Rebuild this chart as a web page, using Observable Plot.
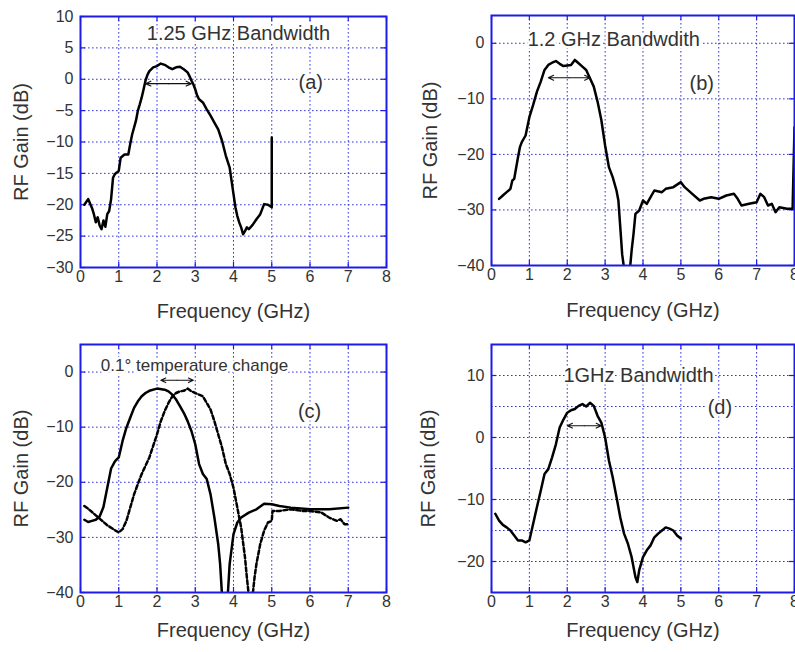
<!DOCTYPE html>
<html>
<head>
<meta charset="utf-8">
<script src="https://cdn.jsdelivr.net/npm/d3@7"></script>
<script src="https://cdn.jsdelivr.net/npm/@observablehq/plot@0.6"></script>
<style>
html, body { margin: 0; padding: 0; background: #fff; overflow: hidden; }
#fig { position: relative; width: 795px; height: 652px; overflow: hidden; background: #fff; }
.panel { position: absolute; }
</style>
</head>
<body>
<div id="fig"></div>
<script>
// ---------- data ----------
const xTicks = [0, 1, 2, 3, 4, 5, 6, 7, 8];
const xGrid = [1, 2, 3, 4, 5, 6, 7];

// (a) 1.25 GHz bandwidth
const aFreq = [0.1,0.2,0.3,0.35,0.4,0.45,0.5,0.55,0.6,0.65,0.7,0.75,0.8,0.85,0.9,1.0,1.05,1.15,1.25,1.3,1.35,1.45,1.5,1.55,1.6,1.65,1.7,1.75,1.8,1.9,2.0,2.1,2.2,2.3,2.4,2.5,2.6,2.7,2.8,2.85,2.9,2.95,3.0,3.05,3.1,3.2,3.3,3.4,3.5,3.6,3.7,3.8,3.9,3.95,4.0,4.05,4.1,4.15,4.2,4.25,4.3,4.35,4.4,4.5,4.6,4.7,4.75,4.8,4.9,5.0,5.0];
const aGain = [-20,-19.1,-20.5,-21.5,-22.8,-22.0,-23.3,-23.9,-22.5,-23.5,-21.5,-21,-19.1,-15.7,-15.1,-14.6,-12.5,-12,-12,-10.3,-8.8,-6.6,-5,-4,-2.9,-1.6,-0.2,0.7,1.3,1.9,2.1,2.5,2.3,1.9,1.6,1.9,2.0,1.6,1.1,0.5,-0.2,-0.8,-1.6,-2.6,-3.2,-3.7,-4.8,-5.8,-6.9,-8,-9.8,-12.2,-14.1,-16.2,-18.3,-20.4,-21.8,-22.8,-23.6,-24.7,-24.2,-23.6,-23.9,-23.2,-22.3,-21.5,-20.7,-19.9,-20,-20.4,-9.3];
const aYTicks = [-30,-25,-20,-15,-10,-5,0,5,10];
const aYGrid = [-25,-20,-15,-10,-5,0,5];

// (b) 1.2 GHz bandwidth
const bFreq = [0.2,0.3,0.4,0.5,0.55,0.6,0.7,0.75,0.8,0.9,1.0,1.1,1.2,1.3,1.4,1.5,1.6,1.7,1.8,1.9,2.0,2.1,2.2,2.3,2.4,2.5,2.6,2.7,2.8,2.9,3.0,3.1,3.2,3.3,3.35,3.4,3.45,3.5,3.58,3.65,3.7,3.75,3.8,3.9,4.0,4.1,4.2,4.3,4.5,4.6,4.8,5.0,5.1,5.3,5.5,5.6,5.8,6.0,6.2,6.4,6.5,6.6,6.8,7.0,7.1,7.2,7.3,7.4,7.5,7.6,7.8,7.95,8.0];
const bGain = [-28,-27.4,-26.8,-26.2,-24.7,-24.4,-20.5,-18.7,-17.8,-16.6,-13.3,-11.1,-8.7,-6.9,-4.8,-3.9,-3.5,-3.2,-3.7,-4.1,-4.0,-3.9,-3.0,-3.6,-4.2,-4.8,-6.3,-7.8,-10.5,-13.8,-18.4,-22.3,-24.1,-26.5,-28.3,-33.1,-38,-40.5,-46,-41,-37.3,-34.3,-30.7,-30.1,-28.3,-28.9,-27.7,-26.5,-26.8,-26.2,-25.9,-25,-25.9,-27.1,-28.3,-28,-27.7,-28,-27.4,-27.1,-28,-29.2,-28.9,-28.6,-27.1,-27.7,-29.2,-28.9,-30.4,-29.5,-29.8,-29.8,-15.1];
const bcYTicks = [-40,-30,-20,-10,0];
const bcYGrid = [-30,-20,-10,0];

// (c) 0.1 degree temperature change: two curves
const cFreqSolid = [0.1,0.2,0.3,0.4,0.5,0.6,0.7,0.8,0.9,1.0,1.1,1.2,1.3,1.4,1.5,1.6,1.7,1.8,2.0,2.2,2.3,2.4,2.5,2.6,2.7,2.8,2.9,3.0,3.1,3.2,3.3,3.4,3.5,3.6,3.65,3.7,3.77,3.85,3.9,4.0,4.1,4.2,4.4,4.6,4.8,5.0,5.2,5.5,6.0,6.5,7.0];
const cGainSolid = [-26.8,-27.2,-27.0,-26.8,-26.2,-24.5,-21,-17.5,-16.2,-15.5,-12.5,-10.1,-8.3,-6.5,-5.3,-4.4,-3.8,-3.4,-3.0,-3.2,-3.5,-4.1,-5,-6.2,-7.4,-8.9,-10.7,-13.1,-16.7,-18.5,-19.4,-22.2,-26.4,-31.2,-34.8,-40.5,-46,-40.5,-34.8,-29.4,-27.3,-26.4,-25.5,-24.9,-23.9,-24,-24.3,-24.6,-24.9,-24.9,-24.6];
const cFreqDashed = [0.1,0.2,0.3,0.4,0.5,0.7,0.9,1.0,1.1,1.2,1.3,1.4,1.5,1.6,1.7,1.8,1.9,2.0,2.1,2.2,2.3,2.4,2.5,2.6,2.7,2.8,2.9,3.0,3.1,3.2,3.3,3.4,3.5,3.6,3.7,3.8,3.9,4.0,4.1,4.2,4.3,4.35,4.4,4.45,4.5,4.55,4.6,4.7,4.8,4.9,5.0,5.02,5.2,5.5,5.8,6.0,6.3,6.5,6.7,6.8,6.9,7.0];
const cGainDashed = [-24.3,-24.8,-25.4,-26.0,-26.6,-27.8,-28.7,-29.1,-28.5,-27,-24.6,-22.2,-20.3,-18.5,-17,-15.5,-13.4,-11.3,-8.9,-7.1,-5.6,-4.4,-3.8,-3.5,-3.4,-3.0,-3.5,-3.8,-4.1,-4.4,-5.6,-6.8,-8.9,-11.3,-13.7,-16.7,-18.5,-21,-24.6,-28.2,-33.6,-37.3,-40.5,-46,-40.5,-37.3,-34.8,-31.2,-28.8,-27.3,-27,-25.2,-25.2,-24.9,-25.2,-25.2,-25.5,-26.4,-27,-26.7,-27.6,-27.6];

// (d) 1 GHz bandwidth
const dFreq = [0.1,0.2,0.3,0.4,0.5,0.6,0.7,0.8,0.9,1.0,1.1,1.2,1.3,1.4,1.5,1.6,1.7,1.8,1.9,2.0,2.1,2.2,2.3,2.4,2.5,2.6,2.7,2.8,2.9,3.0,3.1,3.2,3.3,3.4,3.5,3.6,3.7,3.8,3.85,3.9,4.0,4.1,4.2,4.3,4.4,4.5,4.6,4.7,4.8,4.9,5.0];
const dGain = [-12.3,-13.4,-14.1,-14.5,-15,-15.8,-16.6,-16.6,-16.9,-16.6,-13.9,-11.2,-8.6,-5.9,-5.1,-3.2,-1.1,1.6,2.9,4.0,4.4,4.6,5.1,5.4,5.0,5.6,5.1,3.5,2.4,0,-3.7,-6.4,-9.6,-12.9,-15.5,-17.1,-19.3,-22.5,-23.3,-21.4,-19.3,-18.2,-17.4,-16.1,-15.5,-15,-14.5,-14.7,-15,-15.8,-16.3];
const dYTicks = [-20,-10,0,10];
const dYGrid = [-20,-15,-10,-5,0,5,10];

// annotations: text, x, y
const annText = {
  a: ["1.25 GHz Bandwidth", "(a)"],
  b: ["1.2 GHz Bandwdith", "(b)"],
  c: ["0.1° temperature change", "(c)"],
  d: ["1GHz Bandwidth", "(d)"]
};
const annX = { a: [4.13, 6.02], b: [3.23, 5.55], c: [2.98, 5.99], d: [3.88, 6.03] };
const annY = { a: [7.2, -0.5], b: [0.7, -7.2], c: [1.2, -7.1], d: [10, 4.9] };
const annSize = { a: [20, 20], b: [20, 20], c: [17, 20], d: [20, 20] };

// bandwidth arrows: x1, x2, y
const arrowX1 = { a: 1.7, b: 1.5, c: 2.1, d: 2.0 };
const arrowX2 = { a: 2.9, b: 2.6, c: 2.95, d: 2.9 };
const arrowY  = { a: -0.7, b: -6.2, c: -1.5, d: 1.9 };

const xLabel = "Frequency (GHz)";
const yLabel = "RF Gain (dB)";

// ---------- drawing ----------
const FRAME = "#1c1ce6";
const GRID = "#3434d6";
const TEXT = "#333";
const FONT = "'Liberation Sans', Arial, Helvetica, sans-serif";

function zip(xs, ys) { return xs.map((x, i) => ({ f: x, g: ys[i] })); }

function panel(key, cfg) {
  const { left, top, width, height, ml, mr, mt, mb, yDomain, yTicks, yGrid, series, xLabOff, yLabOff } = cfg;
  const fw = width - ml - mr, fh = height - mt - mb;
  const ann = annText[key].map((t, i) => ({ t, x: annX[key][i], y: annY[key][i], s: annSize[key][i] }));
  const mid = (arrowX1[key] + arrowX2[key]) / 2;
  const arrows = [
    { x1: mid, x2: arrowX1[key], y: arrowY[key] },
    { x1: mid, x2: arrowX2[key], y: arrowY[key] }
  ];
  const marks = [
    Plot.gridX(xGrid, { stroke: GRID, strokeOpacity: 1, strokeWidth: 1, strokeDasharray: "1.6,2.4" }),
    Plot.gridY(yGrid, { stroke: GRID, strokeOpacity: 1, strokeWidth: 1, strokeDasharray: "1.6,2.4" }),
    // inward tick marks on all four sides
    Plot.ruleX(xTicks, { stroke: FRAME, strokeWidth: 1.2, insetTop: fh - 5 }),
    Plot.ruleX(xTicks, { stroke: FRAME, strokeWidth: 1.2, insetBottom: fh - 5 }),
    Plot.ruleY(yTicks, { stroke: FRAME, strokeWidth: 1.2, insetRight: fw - 5 }),
    Plot.ruleY(yTicks, { stroke: FRAME, strokeWidth: 1.2, insetLeft: fw - 5 }),
    Plot.axisX(xTicks, { tickSize: 0, tickPadding: 3, fontSize: 16, fill: TEXT, label: null }),
    Plot.axisX([], { tickSize: 0, label: xLabel, labelAnchor: "center", labelArrow: "none", labelOffset: xLabOff, fontSize: 20, fill: TEXT }),
    Plot.axisY(yTicks, { tickSize: 0, tickPadding: 7, fontSize: 16, fill: TEXT, label: null }),
    Plot.axisY([], { tickSize: 0, label: yLabel, labelAnchor: "center", labelArrow: "none", labelOffset: yLabOff, fontSize: 20, fill: TEXT }),
  ];
  for (const s of series) {
    marks.push(Plot.line(zip(s.x, s.y), { x: "f", y: "g", stroke: "#000", strokeWidth: 2.5, strokeDasharray: s.dash || null, clip: true, curve: "linear" }));
  }
  marks.push(
    Plot.text(ann, { x: "x", y: "y", text: "t", fontSize: "s", fill: TEXT, stroke: "white", strokeWidth: 5, textAnchor: "middle" }),
    Plot.arrow(arrows, { x1: "x1", x2: "x2", y1: "y", y2: "y", stroke: "#111", strokeWidth: 1.1, headLength: 8, headAngle: 50 }),
    Plot.frame({ stroke: FRAME, strokeWidth: 2 })
  );
  const svg = Plot.plot({
    width, height,
    marginLeft: ml, marginRight: mr, marginTop: mt, marginBottom: mb,
    x: { domain: [0, 8] },
    y: { domain: yDomain },
    style: { fontFamily: FONT, fontSize: "16px", color: TEXT, background: "transparent", overflow: "visible" },
    marks
  });
  svg.classList.add("panel");
  svg.style.left = left + "px";
  svg.style.top = top + "px";
  document.getElementById("fig").appendChild(svg);
}

panel("a", { left: 0, top: 0, width: 400, height: 330, ml: 80, mr: 14, mt: 16, mb: 63,
  yDomain: [-30, 10], yTicks: aYTicks, yGrid: aYGrid, xLabOff: 50, yLabOff: 67,
  series: [{ x: aFreq, y: aGain }] });
panel("b", { left: 400, top: 0, width: 410, height: 330, ml: 91, mr: 16, mt: 15, mb: 65,
  yDomain: [-40, 5], yTicks: bcYTicks, yGrid: bcYGrid, xLabOff: 51, yLabOff: 69,
  series: [{ x: bFreq, y: bGain }] });
panel("c", { left: 0, top: 330, width: 400, height: 322, ml: 80, mr: 14, mt: 14, mb: 60,
  yDomain: [-40, 5], yTicks: bcYTicks, yGrid: bcYGrid, xLabOff: 44, yLabOff: 67,
  series: [{ x: cFreqSolid, y: cGainSolid }, { x: cFreqDashed, y: cGainDashed, dash: "4,2.5" }] });
panel("d", { left: 400, top: 330, width: 410, height: 322, ml: 91, mr: 16, mt: 14, mb: 60,
  yDomain: [-25, 15], yTicks: dYTicks, yGrid: dYGrid, xLabOff: 44, yLabOff: 71,
  series: [{ x: dFreq, y: dGain }] });
</script>
</body>
</html>
